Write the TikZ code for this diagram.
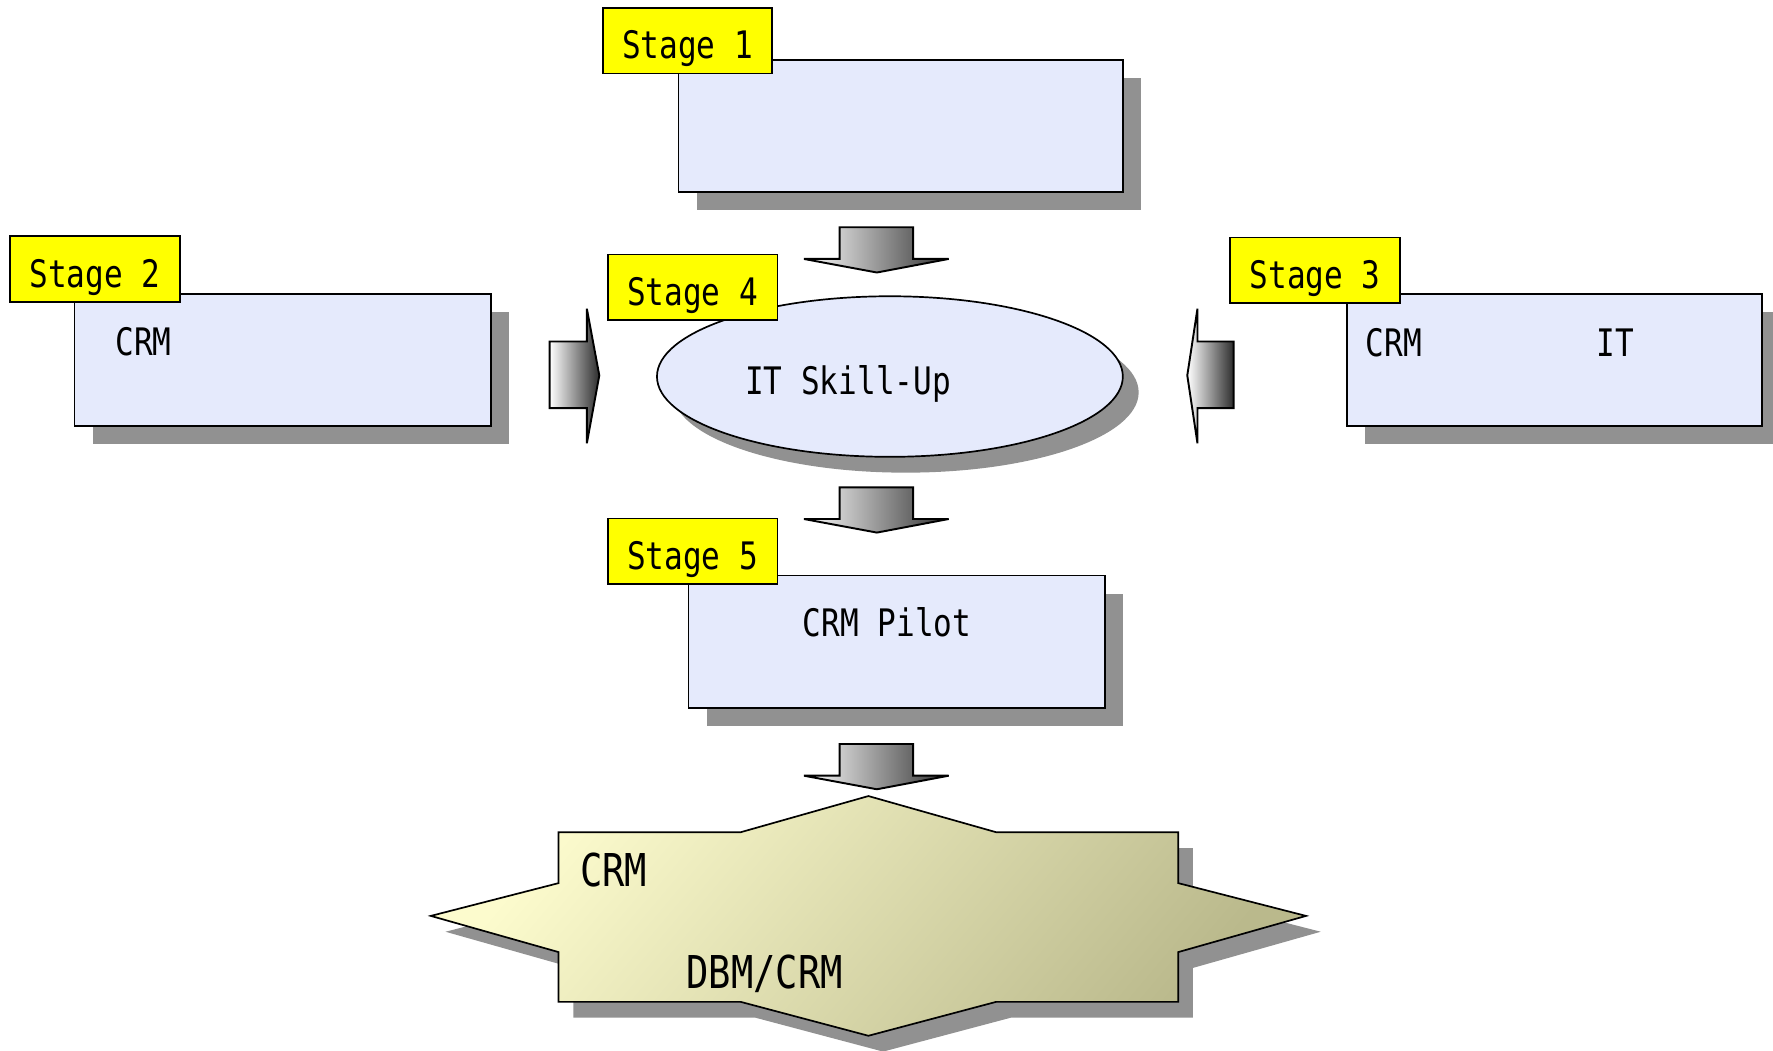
\documentclass[tikz,border=0pt]{standalone}
\usepackage{fontspec}
\newfontfamily\dfont[FakeStretch=0.82]{DejaVu Sans Mono}
\usetikzlibrary{shapes.geometric,shadows}
\definecolor{boxfill}{RGB}{229,234,252}
\definecolor{shadowgray}{RGB}{145,145,145}
\definecolor{lblyellow}{RGB}{255,255,0}
\definecolor{starA}{RGB}{252,251,205}
\definecolor{starD}{RGB}{186,185,140}
\definecolor{arrdark}{RGB}{45,45,45}
\begin{document}
\begin{tikzpicture}[x=1pt,y=-1pt,
  every node/.style={inner sep=0pt, outer sep=0pt},
  txt/.style={font=\dfont\fontsize{33.5pt}{40pt}\selectfont, anchor=base west},
  bigtxt/.style={font=\dfont\fontsize{40pt}{48pt}\selectfont, anchor=base west},
  stagebox/.style={draw=black, line width=1.5pt, fill=boxfill, minimum width=368pt, minimum height=117pt,
    drop shadow={shadow xshift=16pt, shadow yshift=-16pt, fill=shadowgray, opacity=1}},
  stagelabel/.style={draw=black, line width=1.5pt, fill=lblyellow, minimum width=150pt, minimum height=58pt,
    text height=32pt, text depth=0pt, font=\dfont\fontsize{33.5pt}{40pt}\selectfont},
  blockarrow/.style={draw=black, line width=1.7pt, left color=white, right color=arrdark},
  dnarrow/.pic={\path[blockarrow, right color=black!80]
     (-32.5,0) -- (32.5,0) -- (32.5,28) -- (64,28) -- (0.5,40) -- (-64,28) -- (-32.5,28) -- cycle;},
]
\useasboundingbox (0,0) rectangle (1568,929);

% boxes
\node[stagebox, minimum width=393pt] (b1) at (796.5,111.5) {};
\node[stagebox] (b2) at (250,318.5) {};
\node[stagebox, minimum width=367pt] (b3) at (1374.5,318.5) {};
\node[stagebox] (b5) at (793,567.5) {};
\node[ellipse, draw=black, line width=1.5pt, fill=boxfill, minimum width=412pt, minimum height=142pt,
  drop shadow={shadow xshift=14pt, shadow yshift=-14pt, fill=shadowgray, opacity=1}] (e4) at (787,333) {};

% texts inside
\node[txt] (t2) at (102,314) {CRM};
\node[txt] (t3a) at (1208,315) {CRM};
\node[txt] (t3b) at (1412,315) {IT};
\node[txt] (t4) at (659,349) {IT Skill-Up};
\node[txt] (t5) at (710,563) {CRM Pilot};

% stage labels
\node[stagelabel] (s1) at (608,36) {Stage 1};
\node[stagelabel] (s2) at (84,238) {Stage 2};
\node[stagelabel] (s3) at (1163,239) {Stage 3};
\node[stagelabel] (s4) at (612.5,254) {Stage 4};
\node[stagelabel] (s5) at (612.5,487.5) {Stage 5};

% block arrows
\pic at (775,201) {dnarrow};
\pic at (775,431) {dnarrow};
\pic at (775,658) {dnarrow};
\path[blockarrow] (486,302) -- (519,302) -- (519,273) -- (530,332) -- (519,392) -- (519,361) -- (486,361) -- cycle;
\path[blockarrow] (1091,302) -- (1059,302) -- (1059,273) -- (1050,332) -- (1059,392) -- (1059,361) -- (1091,361) -- cycle;

% star shape
\begin{scope}[shift={(13,14)}]
\fill[shadowgray] (768,704) -- (881,736) -- (1042,736) -- (1042,781) -- (1155,810) -- (1042,842) -- (1042,886)
  -- (881,886) -- (768,916) -- (655,886) -- (494,886) -- (494,842) -- (381,810) -- (494,781) -- (494,736) -- (655,736) -- cycle;
\end{scope}
\path[draw=black, line width=1.5pt, top color=starA, bottom color=starD, shading angle=50]
  (768,704) -- (881,736) -- (1042,736) -- (1042,781) -- (1155,810) -- (1042,842) -- (1042,886)
  -- (881,886) -- (768,916) -- (655,886) -- (494,886) -- (494,842) -- (381,810) -- (494,781) -- (494,736) -- (655,736) -- cycle;
\coordinate (starc) at (768,810);
\node[bigtxt] (t6a) at (513,784) {CRM};
\node[bigtxt] (t6b) at (607,874) {DBM/CRM};
\end{tikzpicture}
\end{document}
